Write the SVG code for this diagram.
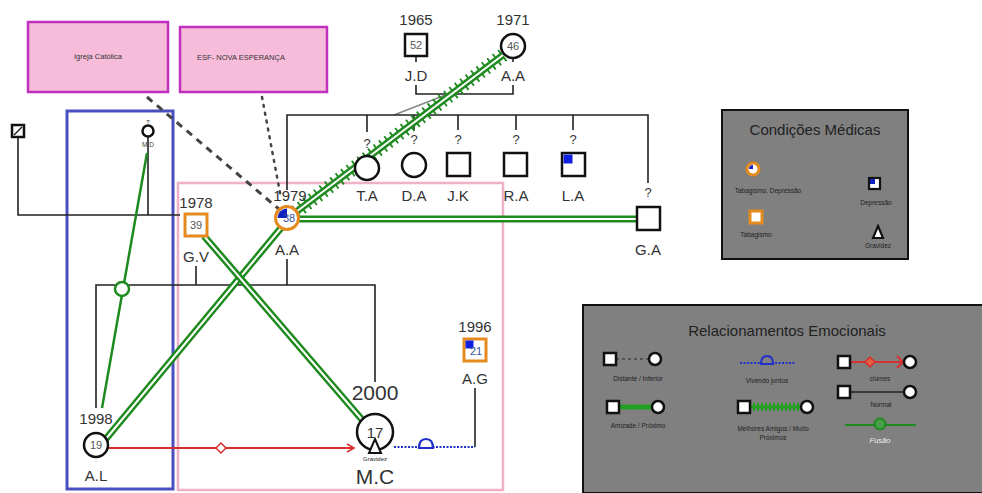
<svg xmlns="http://www.w3.org/2000/svg" width="982" height="493" viewBox="0 0 982 493">
<style>
text{font-family:"Liberation Sans",Arial,sans-serif;fill:#333}
.yr{font-size:15px;text-anchor:middle}
.nm{font-size:15px;text-anchor:middle}
.q{font-size:13px;text-anchor:middle}
.age{font-size:11px;text-anchor:middle;fill:#555}
.tiny{font-size:6px;text-anchor:middle;fill:#222}
.lk{stroke:#222;stroke-width:1.6;fill:none}
.sq{fill:#fff;stroke:#111;stroke-width:2.5}
.ci{fill:#fff;stroke:#111;stroke-width:2.5}
.gout{stroke:#1f8a1f;stroke-width:7;fill:none}
.gin{stroke:#fff;stroke-width:2;fill:none}
.ghatch{stroke:#1f8a1f;stroke-width:14;stroke-dasharray:1.8 5;fill:none}
.org{fill:#fff;stroke:#e58a1f;stroke-width:3}
.box{fill:#f7bcd9;stroke:#c030c0;stroke-width:2.5}
.leg{fill:#808080;stroke:#111;stroke-width:2}
.lt{font-size:6.5px;text-anchor:middle;fill:#222}
</style>
<defs>
<marker id="redArrow" markerWidth="10" markerHeight="10" refX="8" refY="5" orient="auto" markerUnits="userSpaceOnUse">
<path d="M1,1 L8,5 L1,9" fill="none" stroke="#d83030" stroke-width="1.6"/>
</marker>
</defs>

<!-- boundary boxes -->
<rect x="67" y="111" width="106" height="378" fill="none" stroke="#4a4fbf" stroke-width="3"/>
<rect x="178" y="183" width="325" height="307" fill="none" stroke="#f0b0c8" stroke-width="2.5"/>

<g id="connectors">
<!-- family lines -->
<path class="lk" d="M18,137 V215 H180"/>
<path class="lk" d="M148,137 V215"/>
<path class="lk" d="M416,57 V62 M416,85 V94 H513 V85 M513,57 V62"/>
<path d="M448,94 L394,115" stroke="#888" stroke-width="1.6" fill="none"/>
<path class="lk" d="M287,190 V115 H648 V183"/>
<path class="lk" d="M367,115 V132 M414,115 V130 M458,115 V130 M516,115 V130 M573,115 V130"/>
<path class="lk" d="M196,266 V285 M287,259 V285"/>
<path class="lk" d="M96,408 V285 H375 V382"/>
<path class="lk" d="M475,388 V447"/>
<!-- social connections -->
<path d="M147,97 L280,210" stroke="#444" stroke-width="3" stroke-dasharray="7 6" fill="none"/>
<path d="M262,97 L281,198" stroke="#444" stroke-width="2.5" stroke-dasharray="2 6" stroke-linecap="round" fill="none"/>
<!-- fusion M.D - A.L -->
<path d="M147,153 L102,408" stroke="#1f8a1f" stroke-width="2.5" fill="none"/>
<circle cx="122" cy="289" r="7" fill="#fff" stroke="#1f8a1f" stroke-width="2.5"/>
<!-- amizade double lines -->
<path class="gout" d="M281,228 L105,440"/>
<path class="gin" d="M281,228 L105,440"/>
<path class="gout" d="M204,236 L364,422"/>
<path class="gin" d="M204,236 L364,422"/>
<path class="gout" d="M299,219 H637"/>
<path class="gin" d="M299,219 H637"/>
<!-- best friends A.A 1971 - A.A 1979 -->
<path class="ghatch" d="M503,55 L296,212"/>
<path class="gout" d="M503,55 L296,212"/>
<path class="gin" d="M503,55 L296,212"/>
<!-- jealousy -->
<path d="M109,448 H354" stroke="#d83030" stroke-width="1.8" fill="none" marker-end="url(#redArrow)"/>
<path d="M221,443 L226,448 L221,453 L216,448 Z" fill="#fff" stroke="#d83030" stroke-width="1.5"/>
<!-- living together -->
<path d="M394,447 H475" stroke="#2030c8" stroke-width="2" stroke-dasharray="2 1.5" fill="none"/>
<path d="M419,448 Q419,439 426,439 Q433,439 433,448 Z" fill="#fff" stroke="#2030c8" stroke-width="2.2"/>
</g>

<g id="igreja">
<rect class="box" x="28" y="22" width="140" height="70"/>
<text x="98" y="59" font-size="7.5" text-anchor="middle">Igreja Católica</text>
</g>
<g id="esf">
<rect class="box" x="180" y="27" width="147" height="65"/>
<text x="241" y="60" font-size="7.5" text-anchor="middle">ESF- NOVA ESPERANÇA</text>
</g>

<g id="left-man">
<rect class="sq" x="12" y="125" width="12" height="12" stroke-width="2"/>
<path d="M14,135 L22,127" stroke="#111" stroke-width="1.3"/>
</g>
<g id="MD">
<text x="148" y="124" class="tiny">?</text>
<circle class="ci" cx="148" cy="131" r="5.5" stroke-width="2"/>
<text x="148" y="147" class="tiny" style="font-size:6.5px;fill:#444">M.D</text>
</g>

<g id="JD">
<text x="416" y="25" class="yr">1965</text>
<rect class="sq" x="405" y="34" width="22" height="22"/>
<text x="416" y="49" class="age">52</text>
<text x="416" y="81" class="nm">J.D</text>
</g>
<g id="AA1971">
<text x="513" y="25" class="yr">1971</text>
<circle class="ci" cx="513" cy="46" r="12"/>
<text x="513" y="50" class="age">46</text>
<text x="513" y="81" class="nm">A.A</text>
</g>

<g id="TA">
<text x="367" y="148" class="q">?</text>
<circle class="ci" cx="367" cy="168" r="12"/>
<text x="367" y="201" class="nm">T.A</text>
</g>
<g id="DA">
<text x="414" y="144" class="q">?</text>
<circle class="ci" cx="414" cy="165" r="12"/>
<text x="414" y="201" class="nm">D.A</text>
</g>
<g id="JK">
<text x="458" y="144" class="q">?</text>
<rect class="sq" x="447" y="153" width="23" height="23"/>
<text x="458" y="201" class="nm">J.K</text>
</g>
<g id="RA">
<text x="516" y="144" class="q">?</text>
<rect class="sq" x="504" y="153" width="23" height="23"/>
<text x="516" y="201" class="nm">R.A</text>
</g>
<g id="LA">
<text x="573" y="144" class="q">?</text>
<rect class="sq" x="562" y="153" width="23" height="23"/>
<rect x="563.5" y="154.5" width="9" height="9" fill="#1020e0"/>
<text x="573" y="201" class="nm">L.A</text>
</g>
<g id="GA">
<text x="648" y="197" class="q">?</text>
<rect class="sq" x="637" y="207" width="23" height="23"/>
<text x="648" y="255" class="nm">G.A</text>
</g>

<g id="GV">
<text x="196" y="208" class="yr">1978</text>
<rect class="org" x="185" y="214" width="22" height="22"/>
<text x="196" y="229" class="age">39</text>
<text x="196" y="262" class="nm">G.V</text>
</g>
<g id="AA1979">
<text x="290" y="201" class="yr">1979</text>
<circle class="org" cx="287" cy="218" r="11.5"/>
<path d="M287,218 L277.5,218 A9.5,9.5 0 0 1 287,208.5 Z" fill="#1020c0"/>
<text x="289" y="222" class="age" style="fill:#3a4fa0">38</text>
<text x="287" y="255" class="nm">A.A</text>
</g>

<g id="AL">
<text x="96" y="424" class="yr">1998</text>
<circle class="ci" cx="96" cy="445" r="12"/>
<text x="96" y="449" class="age">19</text>
<text x="96" y="481" class="nm">A.L</text>
</g>

<g id="MC">
<text x="375" y="400" style="font-size:21px;text-anchor:middle">2000</text>
<circle class="ci" cx="375" cy="432" r="18" stroke-width="3"/>
<text x="375" y="438" style="font-size:15px;text-anchor:middle">17</text>
<path d="M375,439 L381,453 L369,453 Z" fill="#fff" stroke="#111" stroke-width="2"/>
<text x="375" y="461" class="tiny">Gravidez</text>
<text x="375" y="484" style="font-size:21px;text-anchor:middle">M.C</text>
</g>

<g id="AG">
<text x="475" y="332" class="yr">1996</text>
<rect class="org" x="464" y="339" width="22" height="22"/>
<rect x="465.5" y="340.5" width="8" height="8" fill="#1020e0"/>
<text x="476" y="355" class="age" style="fill:#3a4fa0">21</text>
<text x="475" y="384" class="nm">A.G</text>
</g>

<g id="legend-medical">
<rect class="leg" x="722" y="110" width="186" height="149"/>
<text x="815" y="135" font-size="15" text-anchor="middle" style="fill:#222">Condições Médicas</text>
<circle cx="753" cy="169" r="6" fill="#fff" stroke="#e58a1f" stroke-width="3"/>
<path d="M753,169 L749,169 A4,4 0 0 1 753,165 Z" fill="#1020c0"/>
<text x="768" y="193" class="lt">Tabagismo, Depressão</text>
<rect x="750" y="211" width="12" height="12" fill="#fff" stroke="#e58a1f" stroke-width="3"/>
<text x="756" y="237" class="lt">Tabagismo</text>
<rect x="869" y="178" width="11" height="11" fill="#fff" stroke="#111" stroke-width="2.2"/>
<rect x="870" y="179" width="5" height="5" fill="#1020c0"/>
<text x="876" y="205" class="lt">Depressão</text>
<path d="M878,226 L883,238 L873,238 Z" fill="#fff" stroke="#111" stroke-width="2.2"/>
<text x="878" y="248" class="lt">Gravidez</text>
</g>

<g id="legend-relations">
<rect class="leg" x="583" y="305" width="402" height="188"/>
<text x="787" y="336" font-size="15" text-anchor="middle" style="fill:#222">Relacionamentos Emocionais</text>
<!-- distante -->
<path d="M616,359 H649" stroke="#444" stroke-width="1.5" stroke-dasharray="3 3"/>
<rect class="sq" x="604" y="353" width="12" height="12" stroke-width="2"/>
<circle class="ci" cx="655" cy="359" r="6" stroke-width="2"/>
<text x="638" y="381" class="lt">Distante / Inferior</text>
<!-- amizade -->
<path d="M618,407 H652" stroke="#22a022" stroke-width="5"/>
<rect class="sq" x="607" y="401" width="12" height="12" stroke-width="2"/>
<circle class="ci" cx="658" cy="407" r="6" stroke-width="2"/>
<text x="638" y="428" class="lt">Amizade / Próximo</text>
<!-- vivendo juntos -->
<path d="M740,363 H796" stroke="#2030c8" stroke-width="1.8" stroke-dasharray="2 1.5"/>
<path d="M761,364 Q761,356 767,356 Q773,356 773,364 Z" fill="#808080" stroke="#2030c8" stroke-width="2"/>
<text x="767" y="383" class="lt">Vivendo juntos</text>
<!-- melhores amigos -->
<path d="M749,407 H802" stroke="#22a022" stroke-width="8" stroke-dasharray="2 2"/>
<path d="M749,407 H802" stroke="#22a022" stroke-width="3"/>
<rect class="sq" x="738" y="401" width="12" height="12" stroke-width="2"/>
<circle class="ci" cx="807" cy="407" r="6" stroke-width="2"/>
<text x="773" y="431" class="lt">Melhores Amigos / Muito</text>
<text x="773" y="440" class="lt">Próximos</text>
<!-- ciumes -->
<path d="M849,362 H903" stroke="#d83030" stroke-width="2"/>
<path d="M897,356 L903,362 L897,368" fill="none" stroke="#d83030" stroke-width="2"/>
<path d="M870,357 L875,362 L870,367 L865,362 Z" fill="#e06040" stroke="#d83030" stroke-width="1.5"/>
<rect class="sq" x="838" y="356" width="12" height="12" stroke-width="2"/>
<circle class="ci" cx="910" cy="362" r="6" stroke-width="2"/>
<text x="880" y="381" class="lt">ciúmes</text>
<!-- normal -->
<path d="M849,392 H905" stroke="#222" stroke-width="1.3"/>
<rect class="sq" x="838" y="386" width="12" height="12" stroke-width="2"/>
<circle class="ci" cx="910" cy="392" r="6" stroke-width="2"/>
<text x="881" y="407" class="lt">Normal</text>
<!-- fusao -->
<path d="M845,425 H916" stroke="#1f8a1f" stroke-width="2.2"/>
<circle cx="880" cy="424" r="5.5" fill="#4aa04a" stroke="#1f8a1f" stroke-width="2"/>
<text x="880" y="443" class="lt" style="fill:#f2f2f2;font-style:italic;font-size:7.5px">Fusão</text>
</g>
</svg>
